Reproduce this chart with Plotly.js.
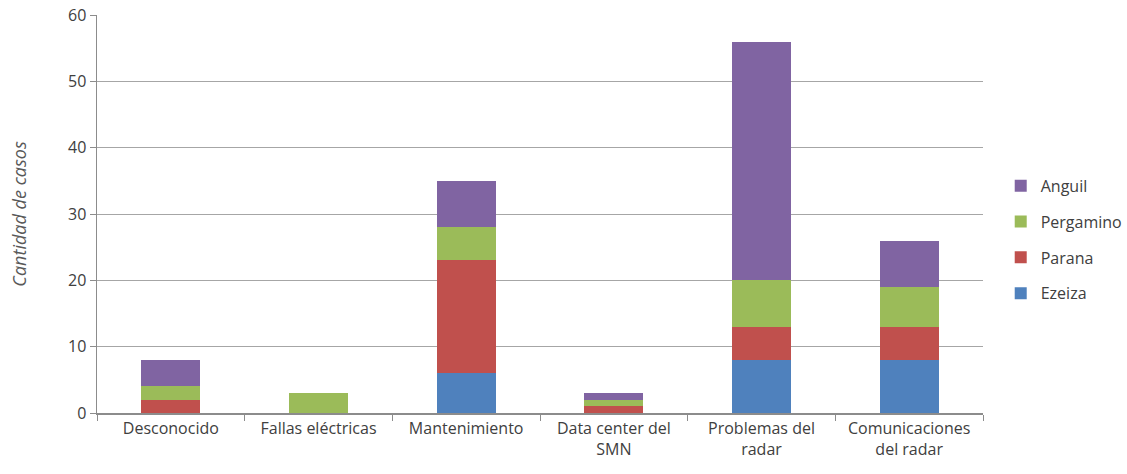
<!DOCTYPE html>
<html>
<head>
<meta charset="utf-8">
<script src="https://cdn.plot.ly/plotly-3.0.1.min.js"></script>
<style>html,body{margin:0;padding:0;background:#fff;}</style>
</head>
<body>
<div id="chart" style="width:1127px;height:474px;"></div>
<script>
// Causes of radar outages, stacked per station
const categories = ["Desconocido", "Fallas eléctricas", "Mantenimiento", "Data center del<br>SMN", "Problemas del<br>radar", "Comunicaciones<br>del radar"];
const ezeiza    = [0, 0, 6, 0, 8, 8];
const parana    = [2, 0, 17, 1, 5, 5];
const pergamino = [2, 3, 5, 1, 7, 6];
const anguil    = [4, 0, 7, 1, 36, 7];
const yTicks = [0, 10, 20, 30, 40, 50, 60];

// stacked bottom to top; the legend lists them top to bottom
const series = [
  {name: "Ezeiza", y: ezeiza, color: "#4F81BD", rank: 4},
  {name: "Parana", y: parana, color: "#C0504D", rank: 3},
  {name: "Pergamino", y: pergamino, color: "#9BBB59", rank: 2},
  {name: "Anguil", y: anguil, color: "#8064A2", rank: 1}
];

const traces = series.map(s => ({
  type: "bar",
  name: s.name,
  x: categories,
  y: s.y,
  legendgroup: s.name,
  legendrank: s.rank,
  marker: {color: s.color},
  hoverinfo: "x+y+name"
}));

const family = "Open Sans, Liberation Sans, sans-serif";
const textColor = "#404040";

const layout = {
  barmode: "stack",
  bargap: 0.6,
  width: 1127,
  height: 474,
  margin: {l: 97, r: 144, t: 15, b: 61, autoexpand: false},
  paper_bgcolor: "#fff",
  plot_bgcolor: "#fff",
  font: {family: family, size: 16, color: textColor},
  showlegend: true,
  legend: {
    x: 1.02, xanchor: "left",
    y: 0.435, yanchor: "middle",
    traceorder: "grouped",
    tracegroupgap: 12,
    font: {family: family, size: 16, color: textColor},
    itemwidth: 30
  },
  xaxis: {
    type: "category",
    showgrid: false,
    showline: true,
    linecolor: "#8c8c8c",
    linewidth: 1.5,
    ticks: "outside",
    tickson: "boundaries",
    ticklen: 6,
    tickcolor: "#8c8c8c",
    tickfont: {family: family, size: 16, color: textColor},
    fixedrange: true
  },
  yaxis: {
    range: [0, 60],
    tickvals: yTicks,
    showgrid: true,
    gridcolor: "#a6a6a6",
    gridwidth: 1,
    showline: true,
    linecolor: "#8c8c8c",
    linewidth: 1.5,
    ticks: "outside",
    ticklen: 6,
    tickcolor: "#8c8c8c",
    zeroline: false,
    tickfont: {family: family, size: 16, color: textColor},
    title: {text: "<i>Cantidad de casos</i>", font: {family: family, size: 18, color: "#595959"}, standoff: 36},
    fixedrange: true
  }
};

Plotly.newPlot("chart", traces, layout, {displayModeBar: false, staticPlot: true});
</script>
</body>
</html>
